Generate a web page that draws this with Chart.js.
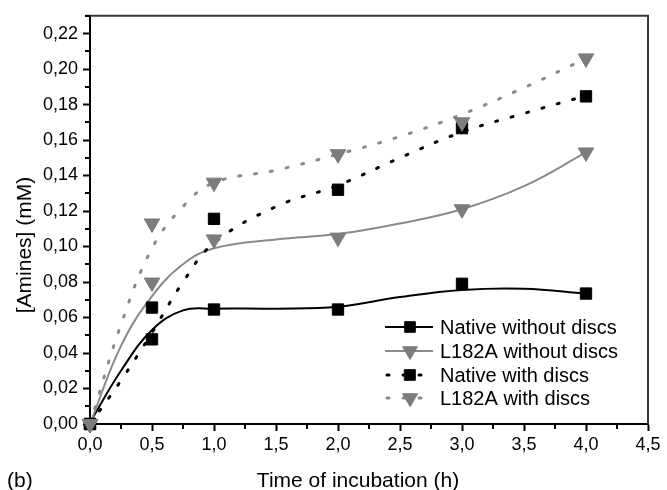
<!DOCTYPE html>
<html>
<head>
<meta charset="utf-8">
<script src="https://cdn.jsdelivr.net/npm/chart.js@4/dist/chart.umd.min.js"></script>
<style>
  html, body { margin: 0; padding: 0; background: #ffffff; }
  #wrap { width: 667px; height: 490px; }
</style>
</head>
<body>
<div id="wrap"><canvas id="c" width="667" height="490"></canvas></div>
<script>
// ---- data ----
const times = [0, 0.5, 1, 2, 3, 4];
const nativeWithout = [0.000, 0.0656, 0.0645, 0.0645, 0.0790, 0.0735];
const l182aWithout  = [0.000, 0.0797, 0.1040, 0.1050, 0.1210, 0.1530];
const nativeWith    = [0.000, 0.0477, 0.1156, 0.1320, 0.1667, 0.1846];
const l182aWith     = [0.000, 0.1130, 0.1360, 0.1520, 0.1700, 0.2060];

// smoothed fit curves as drawn in the reference
const fitX = [0, 0.25, 0.5, 0.75, 1, 1.5, 2, 2.5, 3, 3.5, 4];
const nativeWithoutFit = [0.001, 0.030, 0.053, 0.064, 0.065, 0.065, 0.066, 0.0715, 0.0755, 0.0762, 0.0735];
const l182aWithoutFit  = [0.000, 0.044, 0.072, 0.090, 0.099, 0.104, 0.107, 0.113, 0.121, 0.134, 0.153];
const nativeWithFit    = [0.000, 0.0245, 0.0515, 0.080, 0.102, 0.1225, 0.1345, 0.150, 0.1645, 0.175, 0.185];
const l182aWithFit     = [0.000, 0.056, 0.099, 0.1225, 0.136, 0.143, 0.152, 0.162, 0.1745, 0.1895, 0.206];

const seriesNames = ['Native without discs', 'L182A without discs', 'Native with discs', 'L182A with discs'];
const xTitle = 'Time of incubation (h)';
const yTitle = '[Amines] (mM)';
const panelLabel = '(b)';

const FONT = "'Liberation Sans', Arial, Helvetica, sans-serif";
const BLACK = '#000000';
const GREY_MARK = '#7c7c7c';
const GREY_LINE = '#8a8a8a';

function pts(xs, ys) { return xs.map((x, i) => ({ x: x, y: ys[i] })); }

const styles = [
  { color: BLACK, lineColor: BLACK, dash: [], shape: 'rect', rot: 0, r: 8 },
  { color: GREY_MARK, lineColor: GREY_LINE, dash: [], shape: 'triangle', rot: 180, r: 9 },
  { color: BLACK, lineColor: BLACK, dash: [2, 14], shape: 'rect', rot: 0, r: 8 },
  { color: GREY_MARK, lineColor: GREY_LINE, dash: [2, 14], shape: 'triangle', rot: 180, r: 9 }
];
const fits = [nativeWithoutFit, l182aWithoutFit, nativeWithFit, l182aWithFit];
const marks = [nativeWithout, l182aWithout, nativeWith, l182aWith];

const datasets = [];
fits.forEach((f, i) => {
  const s = styles[i];
  datasets.push({
    label: seriesNames[i] + ' fit',
    data: pts(fitX, f),
    showLine: true,
    borderColor: s.lineColor,
    borderWidth: s.dash.length ? 3 : 2,
    borderDash: s.dash,
    borderCapStyle: s.dash.length ? 'round' : 'butt',
    pointRadius: 0,
    tension: 0.4,
    fill: false,
    clip: false,
    order: 10 - i
  });
});
marks.forEach((m, i) => {
  const s = styles[i];
  datasets.push({
    label: seriesNames[i],
    data: pts(times, m),
    showLine: false,
    pointStyle: s.shape,
    rotation: s.rot,
    pointRadius: s.r,
    pointBackgroundColor: s.color,
    pointBorderColor: s.color,
    pointBorderWidth: 1,
    clip: false,
    order: 4 - i
  });
});

const decor = {
  id: 'decor',
  afterDraw(chart) {
    const ctx = chart.ctx;
    const xs = chart.scales.x, ys = chart.scales.y;
    const a = chart.chartArea;
    ctx.save();
    // frame top & right
    ctx.strokeStyle = '#3a3a3a';
    ctx.lineWidth = 2;
    ctx.beginPath();
    ctx.moveTo(a.left - 5, a.top);
    ctx.lineTo(a.right, a.top);
    ctx.lineTo(a.right, a.bottom);
    ctx.stroke();
    // minor ticks
    ctx.strokeStyle = BLACK;
    ctx.lineWidth = 2;
    ctx.beginPath();
    for (let v = 0.25; v < 4.5; v += 0.5) {
      const px = Math.round(xs.getPixelForValue(v));
      ctx.moveTo(px, a.bottom);
      ctx.lineTo(px, a.bottom + 5);
    }
    for (let v = 0.01; v < 0.23; v += 0.02) {
      const py = Math.round(ys.getPixelForValue(v));
      ctx.moveTo(a.left, py);
      ctx.lineTo(a.left - 5, py);
    }
    ctx.stroke();

    // titles
    ctx.fillStyle = BLACK;
    ctx.font = '21px ' + FONT;
    ctx.textAlign = 'center';
    ctx.textBaseline = 'alphabetic';
    ctx.fillText(xTitle, 358, 487);
    ctx.textAlign = 'left';
    ctx.fillText(panelLabel, 7, 487);
    ctx.save();
    ctx.translate(31, 245);
    ctx.rotate(-Math.PI / 2);
    ctx.textAlign = 'center';
    ctx.fillText(yTitle, 0, 0);
    ctx.restore();

    // legend
    const rowY = [327, 351, 375, 398];
    seriesNames.forEach((name, i) => {
      const s = styles[i];
      const y = rowY[i];
      ctx.save();
      ctx.strokeStyle = s.lineColor;
      ctx.lineWidth = s.dash.length ? 3 : 2;
      ctx.lineCap = s.dash.length ? 'round' : 'butt';
      ctx.setLineDash(s.dash);
      ctx.beginPath();
      ctx.moveTo(s.dash.length ? 387 : 385, y);
      ctx.lineTo(433, y);
      ctx.stroke();
      ctx.setLineDash([]);
      ctx.fillStyle = s.color;
      ctx.strokeStyle = s.color;
      ctx.lineWidth = 1;
      Chart.helpers.drawPoint(ctx, { pointStyle: s.shape, rotation: s.rot, radius: s.r - 0.5, borderWidth: 1 }, 410, y);
      ctx.restore();
      ctx.fillStyle = BLACK;
      ctx.font = '20px ' + FONT;
      ctx.textAlign = 'left';
      ctx.textBaseline = 'alphabetic';
      ctx.fillText(name, 440, y + 7);
    });
    ctx.restore();
  }
};

new Chart(document.getElementById('c'), {
  type: 'scatter',
  data: { datasets: datasets },
  options: {
    responsive: false,
    animation: false,
    events: [],
    layout: { padding: { top: 15, right: 19, left: 0, bottom: 0 } },
    plugins: { legend: { display: false }, tooltip: { enabled: false } },
    scales: {
      x: {
        type: 'linear',
        min: 0, max: 4.5,
        afterFit(scale) { scale.height = 66; },
        border: { display: true, color: BLACK, width: 2 },
        grid: { drawOnChartArea: false, drawTicks: true, tickLength: 7, tickColor: BLACK, tickWidth: 2 },
        ticks: {
          stepSize: 0.5, includeBounds: false, color: BLACK, padding: 3,
          font: { family: FONT, size: 18 },
          maxRotation: 0,
          callback: v => v.toFixed(1).replace('.', ',')
        }
      },
      y: {
        type: 'linear',
        min: 0, max: 0.23,
        afterFit(scale) { scale.width = 90; },
        border: { display: true, color: BLACK, width: 2 },
        grid: { drawOnChartArea: false, drawTicks: true, tickLength: 7, tickColor: BLACK, tickWidth: 2 },
        ticks: {
          stepSize: 0.02, includeBounds: false, color: BLACK, padding: 5,
          font: { family: FONT, size: 18 },
          callback: v => v.toFixed(2).replace('.', ',')
        }
      }
    }
  },
  plugins: [decor]
});
</script>
</body>
</html>
